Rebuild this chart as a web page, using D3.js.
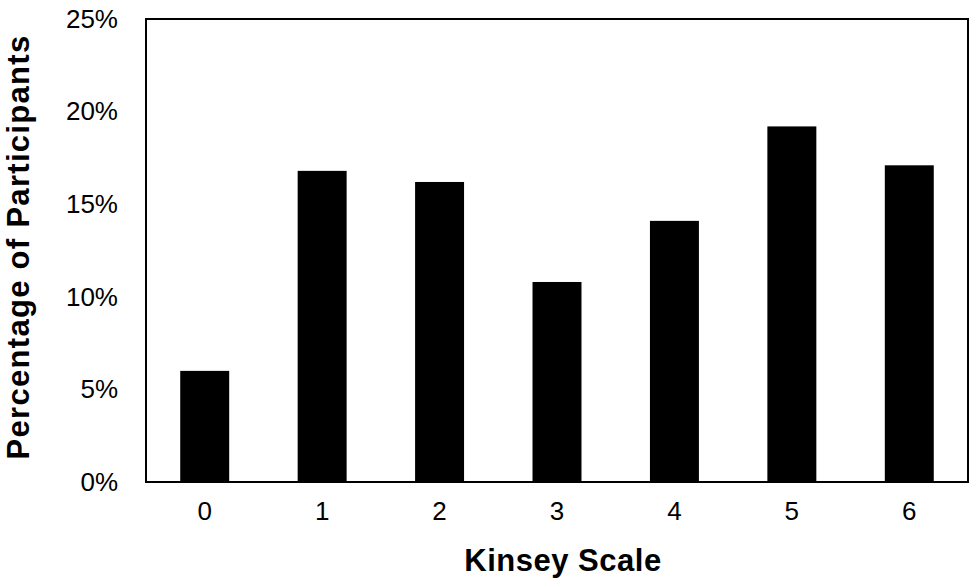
<!DOCTYPE html>
<html>
<head>
<meta charset="utf-8">
<script src="https://cdn.jsdelivr.net/npm/d3@7"></script>
<style>
  body { margin: 0; background: #fff; }
  text { font-family: "Liberation Sans", Arial, sans-serif; }
</style>
</head>
<body>
<div id="chart"></div>
<script>
// data
const categories = ["0", "1", "2", "3", "4", "5", "6"];
const percentages = [6.0, 16.8, 16.2, 10.8, 14.1, 19.2, 17.1];
const yTicks = [0, 5, 10, 15, 20, 25];

const width = 969, height = 587;
const margin = { top: 19, right: 1, bottom: 105, left: 146 };
const plotW = width - margin.left - margin.right;
const plotH = height - margin.top - margin.bottom;

const svg = d3.select("#chart").append("svg")
    .attr("width", width).attr("height", height);
const g = svg.append("g")
    .attr("transform", "translate(" + margin.left + "," + margin.top + ")");

const x = d3.scaleBand().domain(categories).range([0, plotW]).paddingInner(0.583).paddingOuter(0.2915);
const y = d3.scaleLinear().domain([0, 25]).range([plotH, 0]);

// frame
g.append("rect")
    .attr("x", 0).attr("y", 0)
    .attr("width", plotW).attr("height", plotH)
    .attr("fill", "none").attr("stroke", "#000").attr("stroke-width", 2);

// bars
g.selectAll(".bar").data(percentages).enter().append("rect")
    .attr("class", "bar")
    .attr("x", (d, i) => x(categories[i]))
    .attr("y", d => y(d))
    .attr("width", x.bandwidth())
    .attr("height", d => plotH - y(d))
    .attr("fill", "#000");

// y axis
const yAxis = g.append("g")
    .call(d3.axisLeft(y).tickValues(yTicks).tickSize(0).tickPadding(28).tickFormat(d => d + "%"));
yAxis.select(".domain").remove();
yAxis.selectAll("text").attr("font-size", 26).attr("fill", "#000")
    .style("font-family", "'Liberation Sans', Arial, sans-serif");

// x axis
const xAxis = g.append("g")
    .attr("transform", "translate(0," + plotH + ")")
    .call(d3.axisBottom(x).tickSize(0).tickPadding(20));
xAxis.select(".domain").remove();
xAxis.selectAll("text").attr("font-size", 26).attr("fill", "#000")
    .style("font-family", "'Liberation Sans', Arial, sans-serif");

// titles
svg.append("text")
    .attr("x", 563).attr("y", 571)
    .attr("text-anchor", "middle")
    .attr("font-size", 31).attr("font-weight", "bold")
    .attr("letter-spacing", 0.5)
    .text("Kinsey Scale");

svg.append("text")
    .attr("transform", "translate(28.5,247) rotate(-90)")
    .attr("text-anchor", "middle")
    .attr("font-size", 31).attr("font-weight", "bold")
    .attr("letter-spacing", 1.3)
    .text("Percentage of Participants");
</script>
</body>
</html>
